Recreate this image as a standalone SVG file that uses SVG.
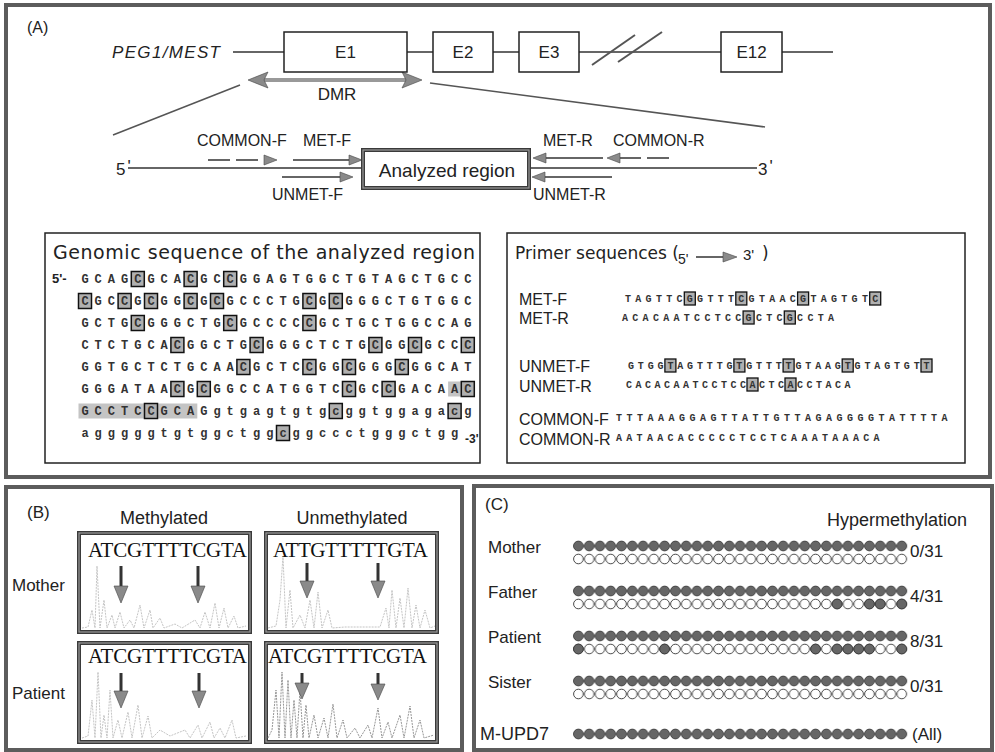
<svg xmlns="http://www.w3.org/2000/svg" width="995" height="752" viewBox="0 0 995 752">
<defs>
<style>
text{font-family:"Liberation Sans",Arial,sans-serif;fill:#222}
.frame{fill:none;stroke:#5c5c5c;stroke-width:4}
.box{fill:#fff;stroke:#222;stroke-width:1.5}
.ttl{font-family:"DejaVu Sans",sans-serif;font-size:19px}
.ttl2{font-family:"DejaVu Sans",sans-serif;font-size:17px}
.seq{font-family:"Liberation Mono",monospace;font-weight:bold;font-size:12px;letter-spacing:6px;fill:#333}
.pseq{font-family:"Liberation Mono",monospace;font-weight:bold;font-size:10px;fill:#333}
.cg{fill:#b0b0b0;stroke:#111;stroke-width:1.5}
.pcg{fill:#b0b0b0;stroke:#111;stroke-width:1.3}
.shade{fill:#c4c4c4}
.ln{stroke:#333;stroke-width:1.5;fill:none}
.diag{stroke:#555;stroke-width:1.5;fill:none}
.ah{fill:#8a8a8a;stroke:#444;stroke-width:0.6}
.mc{fill:#666;stroke:#333;stroke-width:0.8}
.uc{fill:#fff;stroke:#333;stroke-width:0.9}
.trace{fill:none;stroke:#bdbdbd;stroke-width:0.9;stroke-dasharray:2 1}
.vsh{stroke:#333;stroke-width:3}
.dbl{fill:#fff;stroke:#3a3a3a;stroke-width:4}
.dbl2{fill:none;stroke:#9a9a9a;stroke-width:1.2}
.ser{font-family:"Liberation Serif","Times New Roman",serif;font-size:21px;fill:#111}
</style>
<pattern id="pf" x="573" y="-6" width="10.78" height="12" patternUnits="userSpaceOnUse"><circle cx="5.39" cy="6" r="4.9" class="mc"/></pattern>
<pattern id="po" x="573" y="-6" width="10.78" height="12" patternUnits="userSpaceOnUse"><circle cx="5.39" cy="6" r="4.8" class="uc"/></pattern>
</defs>

<!-- Panel frames -->
<g id="panelA-frame"><rect class="frame" x="6" y="5" width="984" height="472"/></g>
<g id="panelB-frame"><rect class="frame" x="6" y="487" width="456" height="263"/></g>
<g id="panelC-frame"><rect class="frame" x="474" y="486" width="518" height="264"/></g>

<!-- Panel A -->
<g id="labelA"><text x="27" y="33" font-size="16">(A)</text></g>
<g id="gene-name"><text x="112" y="58" font-size="17" font-style="italic" textLength="108">PEG1/MEST</text></g>

<g id="connectors">
  <line class="ln" x1="233" y1="52" x2="284" y2="52"/>
  <line class="ln" x1="407" y1="52" x2="433" y2="52"/>
  <line class="ln" x1="493" y1="52" x2="519" y2="52"/>
  <line class="ln" x1="579" y1="52" x2="721" y2="52"/>
  <line class="ln" x1="782" y1="52" x2="833" y2="52"/>
  <line x1="592" y1="65" x2="635" y2="35" stroke="#555" stroke-width="2"/>
  <line x1="618" y1="62" x2="662" y2="32" stroke="#555" stroke-width="2"/>
  <line x1="262" y1="80" x2="408" y2="80" stroke="#999" stroke-width="4"/>
  <polygon class="ah" points="248,80 268,72 264,80 268,88"/>
  <polygon class="ah" points="422,80 402,72 406,80 402,88"/>
  <line class="diag" x1="240" y1="85" x2="113" y2="135"/>
  <line class="diag" x1="430" y1="83" x2="765" y2="127"/>
  <line class="ln" x1="128" y1="168" x2="363" y2="168"/>
  <line class="ln" x1="529" y1="168" x2="757" y2="168"/>
  <line x1="208" y1="160" x2="266" y2="160" stroke="#333" stroke-width="1.5" stroke-dasharray="22 6"/>
  <polygon class="ah" points="277,160 264,155 264,165"/>
  <line class="ln" x1="293" y1="160" x2="351" y2="160"/>
  <polygon class="ah" points="362,160 349,155 349,165"/>
  <line class="ln" x1="282" y1="177" x2="342" y2="177"/>
  <polygon class="ah" points="353,177 340,172 340,182"/>
  <line class="ln" x1="545" y1="158" x2="603" y2="158"/>
  <polygon class="ah" points="533,158 546,153 546,163"/>
  <line x1="619" y1="158" x2="673" y2="158" stroke="#333" stroke-width="1.5" stroke-dasharray="22 6"/>
  <polygon class="ah" points="607,158 620,153 620,163"/>
  <line class="ln" x1="544" y1="177" x2="612" y2="177"/>
  <polygon class="ah" points="532,177 545,172 545,182"/>
</g>

<g id="E1"><rect class="box" x="284" y="32" width="123" height="40"/><text x="345.5" y="58" font-size="17" text-anchor="middle">E1</text></g>
<g id="E2"><rect class="box" x="433" y="32" width="60" height="40"/><text x="463" y="58" font-size="17" text-anchor="middle">E2</text></g>
<g id="E3"><rect class="box" x="519" y="32" width="60" height="40"/><text x="549" y="58" font-size="17" text-anchor="middle">E3</text></g>
<g id="E12"><rect class="box" x="721" y="32" width="61" height="40"/><text x="751.5" y="58" font-size="17" text-anchor="middle">E12</text></g>
<g id="DMR"><text x="337" y="100" font-size="17" text-anchor="middle">DMR</text></g>

<g id="primer-labels" font-size="16">
  <text x="197" y="146">COMMON-F</text>
  <text x="303" y="146">MET-F</text>
  <text x="272" y="200">UNMET-F</text>
  <text x="543" y="146">MET-R</text>
  <text x="613" y="146">COMMON-R</text>
  <text x="533" y="200">UNMET-R</text>
  <text x="116" y="175" font-size="17">5<tspan dx="2" dy="-3">'</tspan></text>
  <text x="758" y="175" font-size="17">3<tspan dx="2" dy="-3">'</tspan></text>
</g>

<g id="analyzed-region">
  <rect class="dbl" x="363" y="150" width="166" height="38"/>
  <rect class="dbl2" x="363" y="150" width="166" height="38"/>
  <text x="447" y="177" font-size="19" text-anchor="middle">Analyzed region</text>
</g>

<!-- Genomic sequence box -->
<g id="genomic-box">
  <rect class="box" x="45" y="233" width="435" height="230"/>
  <text class="ttl" x="53" y="259" textLength="422">Genomic sequence of the analyzed region</text>
  <rect class="shade" x="448.1" y="381.5" width="26.4" height="15"/>
  <rect class="shade" x="78.5" y="403.5" width="118.8" height="15"/>
  <g id="cpg-boxes">
    <rect class="cg" x="131.3" y="271.5" width="13" height="15"/><rect class="cg" x="184.1" y="271.5" width="13" height="15"/><rect class="cg" x="223.7" y="271.5" width="13" height="15"/>
    <rect class="cg" x="78.5" y="293.5" width="13" height="15"/><rect class="cg" x="118.1" y="293.5" width="13" height="15"/><rect class="cg" x="144.5" y="293.5" width="13" height="15"/><rect class="cg" x="184.1" y="293.5" width="13" height="15"/><rect class="cg" x="210.5" y="293.5" width="13" height="15"/><rect class="cg" x="302.9" y="293.5" width="13" height="15"/><rect class="cg" x="329.3" y="293.5" width="13" height="15"/>
    <rect class="cg" x="131.3" y="315.5" width="13" height="15"/><rect class="cg" x="223.7" y="315.5" width="13" height="15"/><rect class="cg" x="302.9" y="315.5" width="13" height="15"/>
    <rect class="cg" x="170.9" y="337.5" width="13" height="15"/><rect class="cg" x="250.1" y="337.5" width="13" height="15"/><rect class="cg" x="368.9" y="337.5" width="13" height="15"/><rect class="cg" x="408.5" y="337.5" width="13" height="15"/><rect class="cg" x="461.3" y="337.5" width="13" height="15"/>
    <rect class="cg" x="236.9" y="359.5" width="13" height="15"/><rect class="cg" x="302.9" y="359.5" width="13" height="15"/><rect class="cg" x="342.5" y="359.5" width="13" height="15"/><rect class="cg" x="395.3" y="359.5" width="13" height="15"/>
    <rect class="cg" x="170.9" y="381.5" width="13" height="15"/><rect class="cg" x="197.3" y="381.5" width="13" height="15"/><rect class="cg" x="342.5" y="381.5" width="13" height="15"/><rect class="cg" x="382.1" y="381.5" width="13" height="15"/><rect class="cg" x="461.3" y="381.5" width="13" height="15"/>
    <rect class="cg" x="144.5" y="403.5" width="13" height="15"/><rect class="cg" x="329.3" y="403.5" width="13" height="15"/><rect class="cg" x="448.1" y="403.5" width="13" height="15"/>
    <rect class="cg" x="276.5" y="425.5" width="13" height="15"/>
  </g>
  <text x="52" y="283" font-size="13" font-weight="bold" fill="#333">5'-</text>
  <text class="seq" x="81.4" y="283">GCAGCGCACGCCGGAGTGGCTGTAGCTGCC</text>
  <text class="seq" x="81.4" y="305">CGCCGCGGCGCGCCCTGCGCGGGCTGTGGC</text>
  <text class="seq" x="81.4" y="327">GCTGCGGGCTGCGCCCCCGCTGCTGGCCAG</text>
  <text class="seq" x="81.4" y="349">CTCTGCACGGCTGCGGGCTCTGCGGCGCCC</text>
  <text class="seq" x="81.4" y="371">GGTGCTCTGCAACGCTCCGGCGGGCGGCAT</text>
  <text class="seq" x="81.4" y="393">GGGATAACGCGGCCATGGTCCGCCGACAAC</text>
  <text class="seq" x="81.4" y="415">GCCTCCGCAGgtgagtgtgcggtggagacg</text>
  <text class="seq" x="81.4" y="437">agggggtgtggctggcggccctgggctgg</text>
  <text x="465" y="443" font-size="12" font-weight="bold" fill="#333">-3'</text>
</g>

<!-- Primer sequences box -->
<g id="primer-box">
  <rect class="box" x="507" y="233" width="458" height="230"/>
  <text class="ttl2" x="515" y="259">Primer sequences (</text>
  <text x="678" y="264" font-size="14">5'</text>
  <line x1="696" y1="257" x2="724" y2="257" stroke="#333" stroke-width="1.5"/>
  <polygon class="ah" points="737,257 723,252 723,262"/>
  <text x="743" y="260" font-size="15">3'</text>
  <text class="ttl2" x="762" y="259">)</text>
  <g id="primer-cpg">
    <rect class="pcg" x="684.3" y="292" width="11" height="13"/><rect class="pcg" x="735.8" y="292" width="11" height="13"/><rect class="pcg" x="797.6" y="292" width="11" height="13"/><rect class="pcg" x="869.7" y="292" width="11" height="13"/>
    <rect class="pcg" x="743.1" y="311" width="11" height="13"/><rect class="pcg" x="784.3" y="311" width="11" height="13"/>
    <rect class="pcg" x="664.9" y="359" width="11" height="13"/><rect class="pcg" x="733.9" y="359" width="11" height="13"/><rect class="pcg" x="783.1" y="359" width="11" height="13"/><rect class="pcg" x="842.2" y="359" width="11" height="13"/><rect class="pcg" x="921" y="359" width="11" height="13"/>
    <rect class="pcg" x="747" y="378" width="11" height="13"/><rect class="pcg" x="785" y="378" width="11" height="13"/>
  </g>
  <g font-size="16">
    <text x="519" y="305">MET-F</text>
    <text x="519" y="324">MET-R</text>
    <text x="519" y="372">UNMET-F</text>
    <text x="519" y="392">UNMET-R</text>
    <text x="519" y="425">COMMON-F</text>
    <text x="519" y="445">COMMON-R</text>
  </g>
  <text class="pseq" x="625" y="302" letter-spacing="4.3">TAGTTCGGTTTCGTAACGTAGTGTC</text>
  <text class="pseq" x="622" y="321" letter-spacing="4.3">ACACAATCCTCCGCTCGCCTA</text>
  <text class="pseq" x="628" y="369" letter-spacing="3.85">GTGGTAGTTTGTGTTTTGTAAGTGTAGTGTT</text>
  <text class="pseq" x="626" y="388" letter-spacing="3.5">CACACAATCCTCCACTCACCTACA</text>
  <text class="pseq" x="616" y="421" letter-spacing="4.5">TTTAAAGGAGTTATTGTTAGAGGGGTATTTTA</text>
  <text class="pseq" x="616" y="441" letter-spacing="4.3">AATAACACCCCCTCCTCAAATAAACA</text>
</g>

<!-- Panel B -->
<g id="panelB">
  <text x="27" y="518" font-size="17">(B)</text>
  <text x="164" y="524" font-size="18" text-anchor="middle">Methylated</text>
  <text x="352" y="524" font-size="18" text-anchor="middle">Unmethylated</text>
  <text x="12" y="591" font-size="17">Mother</text>
  <text x="12" y="699" font-size="17">Patient</text>
</g>
<g id="mother-methylated">
  <rect class="dbl" x="79" y="533" width="171" height="99"/><rect class="dbl2" x="79" y="533" width="171" height="99"/>
  <path class="trace" d="M82,628 L88,627 L92,610 L95,628 L97,566 L100,628 L104,600 L107,628 L112,615 L115,628 L120,612 L124,628 L130,620 L134,628 L140,605 L144,628 L150,610 L153,628 L160,618 L164,628 L175,624 L182,628 L195,620 L200,628 L205,612 L210,628 L215,603 L219,628 L224,608 L228,628 L234,616 L238,628 L246,626"/>
  <text class="ser" x="88" y="557" textLength="159">ATCGTTTTCGTA</text>
  <line class="vsh" x1="121" y1="566" x2="121" y2="590"/><polygon class="ah" points="114,586 128,586 121,603"/>
  <line class="vsh" x1="198" y1="566" x2="198" y2="590"/><polygon class="ah" points="191,586 205,586 198,603"/>
</g>
<g id="mother-unmethylated">
  <rect class="dbl" x="266" y="533" width="171" height="99"/><rect class="dbl2" x="266" y="533" width="171" height="99"/>
  <path class="trace" d="M268,628 L276,626 L280,600 L283,556 L286,628 L290,590 L293,628 L300,615 L305,628 L310,600 L314,628 L318,592 L322,628 L328,610 L332,628 L345,627 L380,627 L386,608 L389,628 L392,590 L396,628 L400,598 L404,628 L408,588 L412,628 L416,605 L420,628 L425,610 L430,628 L435,626"/>
  <text class="ser" x="273" y="557" textLength="155">ATTGTTTTTGTA</text>
  <line class="vsh" x1="307" y1="563" x2="307" y2="585"/><polygon class="ah" points="300,581 314,581 307,598"/>
  <line class="vsh" x1="378" y1="563" x2="378" y2="585"/><polygon class="ah" points="371,581 385,581 378,598"/>
</g>
<g id="patient-methylated">
  <rect class="dbl" x="79" y="643" width="171" height="99"/><rect class="dbl2" x="79" y="643" width="171" height="99"/>
  <path class="trace" d="M82,738 L88,736 L92,700 L95,738 L98,672 L101,738 L104,715 L107,738 L110,690 L113,738 L118,720 L122,738 L128,712 L132,738 L138,705 L142,738 L148,716 L152,738 L160,730 L170,736 L185,730 L190,738 L198,725 L202,738 L210,722 L214,738 L220,728 L225,738 L232,720 L236,738 L246,736"/>
  <text class="ser" x="88" y="663" textLength="159">ATCGTTTTCGTA</text>
  <line class="vsh" x1="121" y1="673" x2="121" y2="695"/><polygon class="ah" points="114,691 128,691 121,708"/>
  <line class="vsh" x1="199" y1="673" x2="199" y2="695"/><polygon class="ah" points="192,691 206,691 199,708"/>
</g>
<g id="patient-unmethylated">
  <rect class="dbl" x="266" y="643" width="171" height="99"/><rect class="dbl2" x="266" y="643" width="171" height="99"/>
  <path class="trace" style="stroke:#8a8a8a" d="M268,738 L272,730 L276,690 L279,738 L282,672 L285,738 L288,680 L291,738 L294,700 L297,738 L300,690 L303,738 L306,705 L309,738 L314,715 L318,738 L324,718 L328,738 L333,704 L337,738 L343,720 L347,738 L355,728 L360,738 L368,725 L372,738 L378,708 L382,738 L388,722 L392,738 L400,715 L404,738 L410,706 L414,738 L420,720 L424,738 L434,735"/>
  <text class="ser" x="268" y="663" textLength="159">ATCGTTTTCGTA</text>
  <line class="vsh" x1="302" y1="673" x2="302" y2="687"/><polygon class="ah" points="295,683 309,683 302,699"/>
  <line class="vsh" x1="378" y1="673" x2="378" y2="688"/><polygon class="ah" points="371,684 385,684 378,700"/>
</g>

<!-- Panel C -->
<g id="panelC">
  <text x="485" y="510" font-size="17">(C)</text>
  <text x="967" y="526" font-size="18" text-anchor="end">Hypermethylation</text>
</g>
<g id="row-mother">
  <text x="488" y="553" font-size="17">Mother</text>
  <g transform="translate(0,546)"><rect x="573" y="-6" width="334.2" height="12" fill="url(#pf)"/></g>
  <g transform="translate(0,559)"><rect x="573" y="-6" width="334.2" height="12" fill="url(#po)"/></g>
  <text x="910" y="557" font-size="17">0/31</text>
</g>
<g id="row-father">
  <text x="488" y="598" font-size="17">Father</text>
  <g transform="translate(0,591)"><rect x="573" y="-6" width="334.2" height="12" fill="url(#pf)"/></g>
  <g transform="translate(0,604)"><rect x="573" y="-6" width="334.2" height="12" fill="url(#po)"/>
    <circle class="mc" cx="837.1" cy="0" r="4.9"/><circle class="mc" cx="869.4" cy="0" r="4.9"/><circle class="mc" cx="880.2" cy="0" r="4.9"/><circle class="mc" cx="901.8" cy="0" r="4.9"/>
  </g>
  <text x="910" y="602" font-size="17">4/31</text>
</g>
<g id="row-patient">
  <text x="488" y="643" font-size="17">Patient</text>
  <g transform="translate(0,636)"><rect x="573" y="-6" width="334.2" height="12" fill="url(#pf)"/></g>
  <g transform="translate(0,649)"><rect x="573" y="-6" width="334.2" height="12" fill="url(#po)"/>
    <circle class="mc" cx="578.4" cy="0" r="4.9"/><circle class="mc" cx="664.6" cy="0" r="4.9"/><circle class="mc" cx="815.6" cy="0" r="4.9"/><circle class="mc" cx="837.1" cy="0" r="4.9"/><circle class="mc" cx="847.9" cy="0" r="4.9"/><circle class="mc" cx="858.7" cy="0" r="4.9"/><circle class="mc" cx="869.4" cy="0" r="4.9"/><circle class="mc" cx="901.8" cy="0" r="4.9"/>
  </g>
  <text x="910" y="647" font-size="17">8/31</text>
</g>
<g id="row-sister">
  <text x="488" y="688" font-size="17">Sister</text>
  <g transform="translate(0,681)"><rect x="573" y="-6" width="334.2" height="12" fill="url(#pf)"/></g>
  <g transform="translate(0,694)"><rect x="573" y="-6" width="334.2" height="12" fill="url(#po)"/></g>
  <text x="910" y="692" font-size="17">0/31</text>
</g>
<g id="row-mupd7">
  <text x="480" y="740" font-size="18">M-UPD7</text>
  <g transform="translate(0,734)"><rect x="573" y="-6" width="334.2" height="12" fill="url(#pf)"/></g>
  <text x="912" y="740" font-size="17">(All)</text>
</g>
</svg>
